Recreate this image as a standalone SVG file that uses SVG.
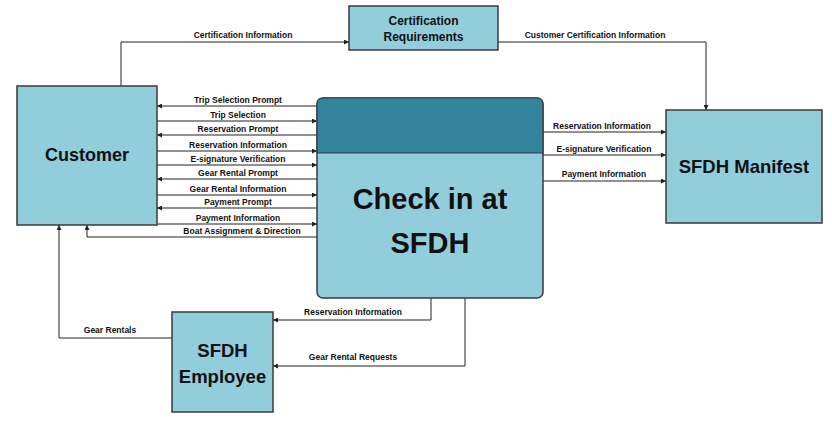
<svg xmlns="http://www.w3.org/2000/svg" width="832" height="433" viewBox="0 0 832 433">
<style>
.box{fill:#92CDDC;stroke:#3a3a3a;stroke-width:1.5}
.hdr{fill:#31849B;stroke:#3a3a3a;stroke-width:1.2}
.t{font-family:"Liberation Sans",Arial,sans-serif;font-weight:bold;fill:#111;text-anchor:middle}
.lbl{font-family:"Liberation Sans",Arial,sans-serif;font-weight:bold;font-size:8.5px;fill:#111;text-anchor:middle}
.c{fill:none;stroke:#222;stroke-width:1}
</style>
<defs>
<marker id="ah" viewBox="0 0 8 8" refX="8" refY="4" markerWidth="5" markerHeight="5" orient="auto" markerUnits="userSpaceOnUse">
<path d="M0,0 L8,4 L0,8 z" fill="#222"/>
</marker>
</defs>
<rect width="832" height="433" fill="#fff"/>
<g id="connectors">
<path class="c" d="M317,106 H157" marker-end="url(#ah)"/>
<path class="c" d="M157,121 H317" marker-end="url(#ah)"/>
<path class="c" d="M317,135 H157" marker-end="url(#ah)"/>
<path class="c" d="M157,151 H317" marker-end="url(#ah)"/>
<path class="c" d="M157,165 H317" marker-end="url(#ah)"/>
<path class="c" d="M317,179 H157" marker-end="url(#ah)"/>
<path class="c" d="M157,195 H317" marker-end="url(#ah)"/>
<path class="c" d="M317,208 H157" marker-end="url(#ah)"/>
<path class="c" d="M157,224 H317" marker-end="url(#ah)"/>
<path class="c" d="M317,237 H87 V225" marker-end="url(#ah)"/>
<path class="c" d="M121,86 V42 H349" marker-end="url(#ah)"/>
<path class="c" d="M498,42 H706 V110" marker-end="url(#ah)"/>
<path class="c" d="M543,132 H666" marker-end="url(#ah)"/>
<path class="c" d="M543,155 H666" marker-end="url(#ah)"/>
<path class="c" d="M543,181 H666" marker-end="url(#ah)"/>
<path class="c" d="M431,298 V320 H273" marker-end="url(#ah)"/>
<path class="c" d="M465,298 V366 H273" marker-end="url(#ah)"/>
<path class="c" d="M172,338 H59 V225" marker-end="url(#ah)"/>
<text class="lbl" x="238" y="103">Trip Selection Prompt</text>
<text class="lbl" x="238" y="118">Trip Selection</text>
<text class="lbl" x="238" y="132">Reservation Prompt</text>
<text class="lbl" x="238" y="148">Reservation Information</text>
<text class="lbl" x="238" y="162">E-signature Verification</text>
<text class="lbl" x="238" y="176">Gear Rental Prompt</text>
<text class="lbl" x="238" y="192">Gear Rental Information</text>
<text class="lbl" x="238" y="205">Payment Prompt</text>
<text class="lbl" x="238" y="221">Payment Information</text>
<text class="lbl" x="242" y="234">Boat Assignment &amp; Direction</text>
<text class="lbl" x="243" y="38">Certification Information</text>
<text class="lbl" x="595" y="38">Customer Certification Information</text>
<text class="lbl" x="602" y="129">Reservation Information</text>
<text class="lbl" x="604" y="152">E-signature Verification</text>
<text class="lbl" x="604" y="177">Payment Information</text>
<text class="lbl" x="353" y="315">Reservation Information</text>
<text class="lbl" x="353" y="360">Gear Rental Requests</text>
<text class="lbl" x="110" y="333">Gear Rentals</text>
</g>
<g id="customer">
<rect class="box" x="17" y="86" width="140" height="139"/>
<text class="t" x="87" y="161" font-size="18">Customer</text>
</g>
<g id="check-in">
<rect class="box" x="317" y="98" width="226" height="200" rx="6"/>
<path class="hdr" d="M317,153 V104 Q317,98 323,98 H537 Q543,98 543,104 V153 Z"/>
<text class="t" x="430" y="209" font-size="29">Check in at</text>
<text class="t" x="430" y="253" font-size="29">SFDH</text>
</g>
<g id="cert-req">
<rect class="box" x="349" y="6" width="149" height="44"/>
<text class="t" x="423.500" y="25" font-size="12">Certification</text>
<text class="t" x="423.500" y="41" font-size="12">Requirements</text>
</g>
<g id="manifest">
<rect class="box" x="666" y="110" width="156" height="113"/>
<text class="t" x="744" y="173" font-size="18.500">SFDH Manifest</text>
</g>
<g id="employee">
<rect class="box" x="172" y="312" width="101" height="100"/>
<text class="t" x="222.500" y="357" font-size="18.500">SFDH</text>
<text class="t" x="222.500" y="383" font-size="18.500">Employee</text>
</g>
</svg>
